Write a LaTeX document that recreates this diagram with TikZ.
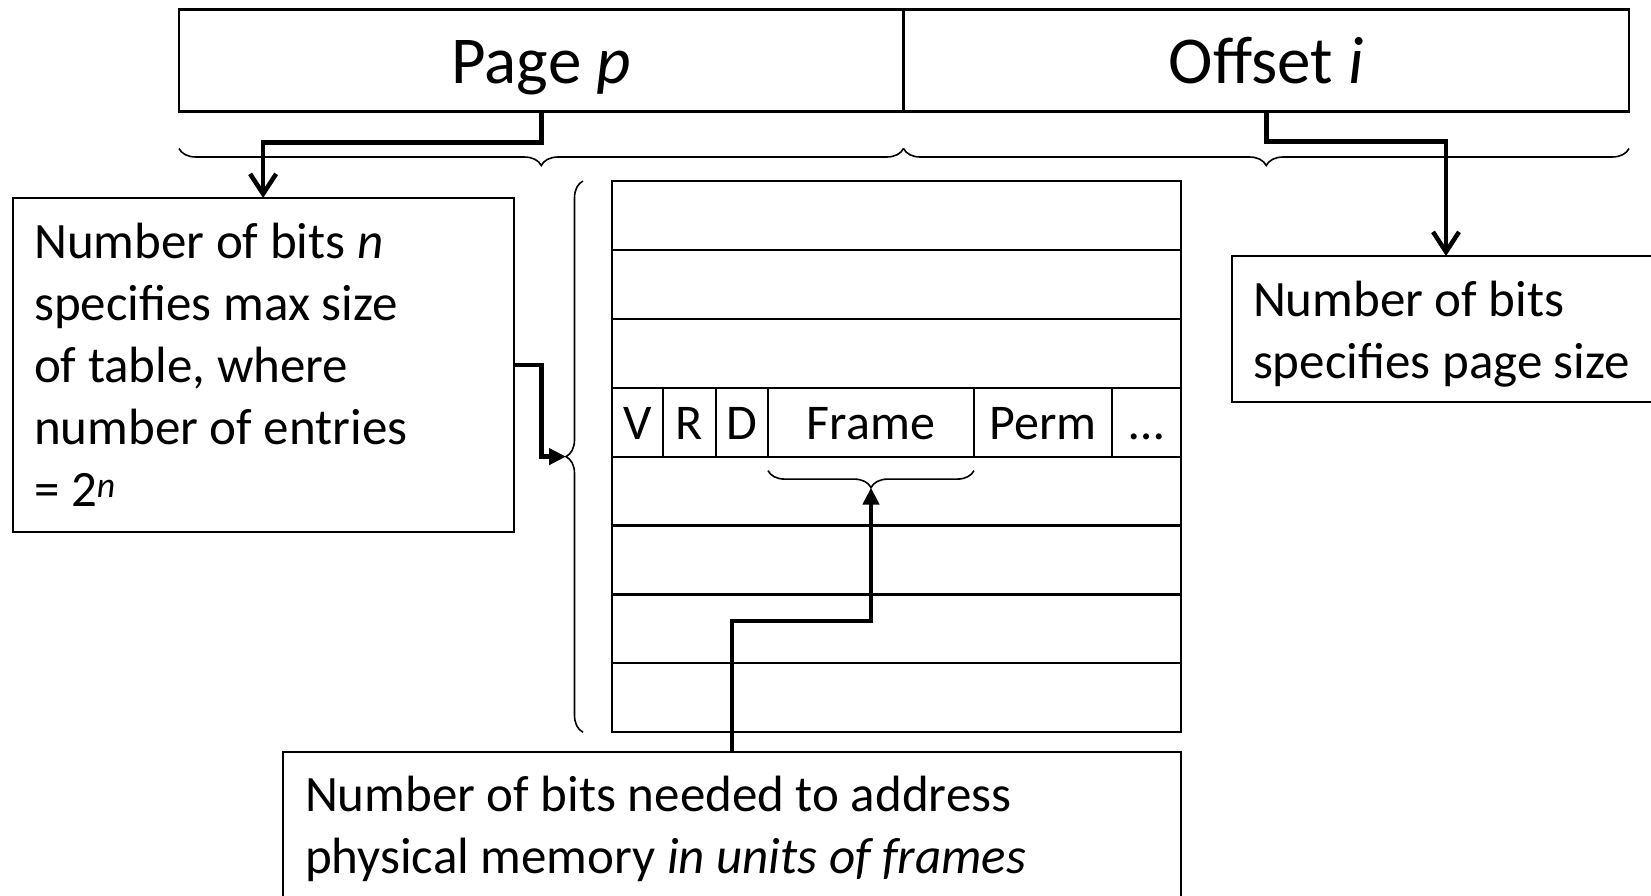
\documentclass[tikz,border=0pt]{standalone}
\usepackage{fontspec}
\setmainfont{Carlito}
\usetikzlibrary{arrows.meta,positioning,calc,decorations.pathreplacing}

\begin{document}
\begin{tikzpicture}[x=1pt,y=-1pt,>=Latex]
  \tikzstyle{box}=[draw, line width=2.2pt, inner sep=0pt, outer sep=0pt, align=flush left, anchor=north west, font=\fontsize{51}{62}\selectfont]
  \tikzstyle{field}=[draw, line width=2.2pt, inner sep=0pt, outer sep=0pt, minimum height=102pt, text height=50pt, text depth=5pt, font=\fontsize{67}{80}\selectfont]
  \tikzstyle{tablerow}=[draw, line width=2.2pt, inner sep=0pt, outer sep=0pt, minimum width=569pt, minimum height=68.9pt]
  \tikzstyle{cell}=[draw, line width=2.2pt, inner sep=0pt, outer sep=0pt, minimum height=68.9pt, anchor=west, text height=38pt, text depth=4pt, font=\fontsize{50}{60}\selectfont]
  \tikzstyle{link}=[line width=4.5pt]
  \tikzstyle{curly}=[line width=1.6pt, decorate, decoration={brace, amplitude=17pt}]

  \useasboundingbox (0,0) rectangle (1651,895);
  \clip (0,0) rectangle (1651,895);

  \node[field, minimum width=724.5pt] (page) at (541.25,60.5) {Page \textit{p}};
  \node[field, minimum width=725.5pt, right=0pt of page] (offset) {Offset \textit{i}};
  \draw[curly] ([yshift=-37pt]page.south east) -- ([yshift=-37pt]page.south west);
  \draw[curly] ([yshift=-37pt]offset.south east) -- ([yshift=-37pt]offset.south west);

  \node[box, minimum width=501pt, minimum height=334pt, text width=458pt] (tablesize) at (12.6,198) {Number of bits \textit{n}\\specifies max size\\of table, where\\number of entries\\= 2\textsuperscript{\textit{n}}};
  \node[box, minimum width=428pt, minimum height=146pt, text width=386pt] (pagesize) at (1232,256) {\rule{0pt}{46pt}Number of bits\\specifies page size};
  \node[box, minimum width=898pt, minimum height=153pt, text width=854pt] (frames) at (283,752) {Number of bits needed to address\\physical memory \textit{in units of frames}};

  \foreach \i in {1,...,8}
    \node[tablerow] (row\i) at (896.5,{181+68.9*(\i-0.5)}) {};
  \node[cell, minimum width=51pt] (v) at (row4.west) {V};
  \node[cell, minimum width=53pt, right=0pt of v] (r) {R};
  \node[cell, minimum width=52pt, right=0pt of r] (d) {D};
  \node[cell, minimum width=206pt, right=0pt of d] (frame) {Frame};
  \node[cell, minimum width=138pt, right=0pt of frame] (perm) {Perm};
  \node[cell, minimum width=69pt, right=0pt of perm] (more) {…};

  \draw[curly] ([xshift=-29pt]row8.south west) -- ([xshift=-29pt]row1.north west);
  \coordinate (tabletip) at ($(row1.north west)!0.5!(row8.south west)+(-46,0)$);
  \draw[curly] ([yshift=-14pt]frame.south east) -- ([yshift=-14pt]frame.south west);
  \coordinate (frametip) at ($(frame.south)+(0,31)$);

  \draw[link, -{Straight Barb[length=20pt, width=26pt]}] (page.south) -- ++(0,31) -| (tablesize.north);
  \draw[link, -{Straight Barb[length=20pt, width=26pt]}] (offset.south) -- ++(0,30) -| (pagesize.north);
  \draw[link, -{Triangle[length=17pt, width=16pt]}] (tablesize.east) -- ++(28,0) |- (tabletip);
  \draw[link, -{Triangle[length=17pt, width=16pt]}] (frames.north) -- ++(0,-131) -| (frametip);
\end{tikzpicture}
\end{document}
